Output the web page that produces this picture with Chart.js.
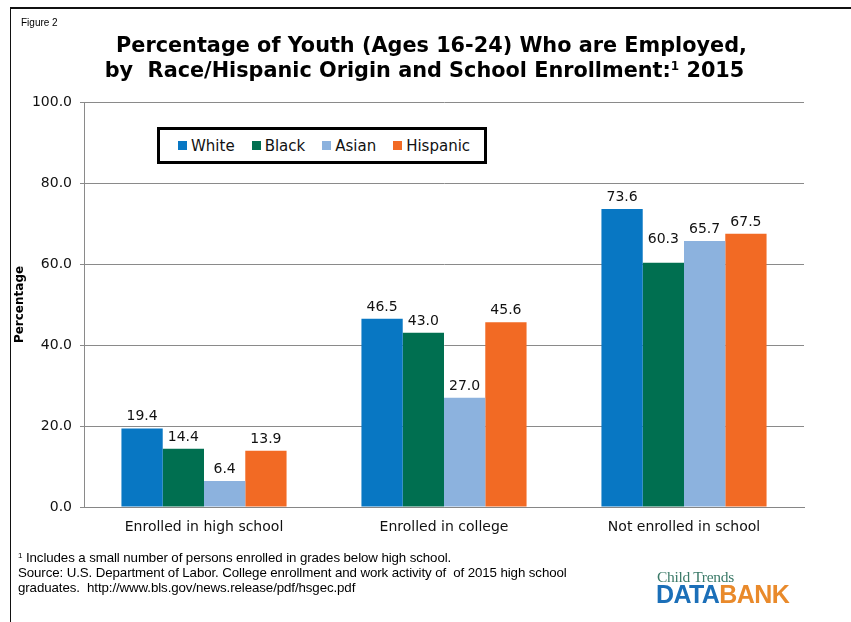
<!DOCTYPE html>
<html>
<head>
<meta charset="utf-8">
<script src="https://cdn.jsdelivr.net/npm/chart.js@4/dist/chart.umd.min.js"></script>
<style>
  html, body { margin: 0; padding: 0; background: #fff; }
  #wrap { position: relative; width: 851px; height: 622px; overflow: hidden; background: #fff; }
  #frameTop { position: absolute; left: 10px; top: 7px; width: 841px; height: 0; border-top: 2px solid #111; }
  #frameLeft { position: absolute; left: 10px; top: 7px; width: 0; height: 615px; border-left: 1.5px solid #111; }
  #fig { position: absolute; left: 21px; top: 17px; font: 10px "Liberation Sans", sans-serif; color: #000; }
  #title { position: absolute; left: 0; width: 851px; top: 33px; text-align: center; font: bold 20.8px "DejaVu Sans", Verdana, sans-serif; line-height: 25px; color: #000; padding-left: 12px; box-sizing: border-box; }
  #title .l2 { display: inline-block; margin-left: -14px; }
  #title sup { font-size: 12px; vertical-align: 7px; line-height: 0; }
  #c { position: absolute; left: 0; top: 0; }
  #legend { position: absolute; left: 157px; top: 127px; width: 330px; height: 37px; border: 3px solid #000; box-sizing: border-box; display: flex; align-items: center; padding-left: 18px; font: 15px "DejaVu Sans", Verdana, sans-serif; color: #111; background: #fff; }
  .li { display: flex; align-items: center; margin-right: 17px; }
  .sw { width: 9px; height: 9px; margin-right: 4px; }
  #foot { position: absolute; left: 18px; top: 550px; font: 13.3px "Liberation Sans", sans-serif; line-height: 15px; color: #000; letter-spacing: -0.1px; }
  #foot sup { font-size: 8px; vertical-align: 4px; line-height: 0; }
  #logo1 { position: absolute; left: 657px; top: 568px; font: 15.5px "Liberation Serif", serif; color: #3b7a68; letter-spacing: -0.3px; }
  #logo2 { position: absolute; left: 656px; top: 582px; font: bold 25px "Liberation Sans", sans-serif; letter-spacing: -0.6px; line-height: 25px; }
  #logo2 .d { color: #1b6fb8; }
  #logo2 .b { color: #e98a2b; }
</style>
</head>
<body>
<div id="wrap">
  <canvas id="c" width="851" height="622"></canvas>
  <div id="frameTop"></div>
  <div id="frameLeft"></div>
  <div id="fig">Figure 2</div>
  <div id="title">Percentage of Youth (Ages 16-24) Who are Employed,<br><span class="l2">by&nbsp; Race/Hispanic Origin and School Enrollment:<sup>1</sup> 2015</span></div>
  <div id="legend"></div>
  <div id="foot"><sup>1</sup> Includes a small number of persons enrolled in grades below high school.<br>Source: U.S. Department of Labor. College enrollment and work activity of&nbsp; of 2015 high school<br>graduates.&nbsp; http://www.bls.gov/news.release/pdf/hsgec.pdf</div>
  <div id="logo1">Child Trends</div>
  <div id="logo2"><span class="d">DATA</span><span class="b">BANK</span></div>
</div>
<script>
const categories = ["Enrolled in high school", "Enrolled in college", "Not enrolled in school"];
const seriesNames = ["White", "Black", "Asian", "Hispanic"];
const white = [19.4, 46.5, 73.6];
const black = [14.4, 43.0, 60.3];
const asian = [6.4, 27.0, 65.7];
const hispanic = [13.9, 45.6, 67.5];
const yTicks = [0, 20, 40, 60, 80, 100];
const colors = ["#0877C3", "#006F50", "#8CB2DE", "#F26A24"];

const seriesValues = [white, black, asian, hispanic];

// HTML legend built from series names
const leg = document.getElementById('legend');
seriesNames.forEach((n, i) => {
  const d = document.createElement('div');
  d.className = 'li';
  d.innerHTML = '<div class="sw" style="background:' + colors[i] + '"></div><span>' + n + '</span>';
  leg.appendChild(d);
});

const valueLabels = {
  id: 'valueLabels',
  afterDatasetsDraw(chart, args, opts) {
    const ctx = chart.ctx;
    ctx.save();
    ctx.font = '14px "DejaVu Sans", Verdana, sans-serif';
    ctx.fillStyle = '#111';
    ctx.textAlign = 'center';
    ctx.textBaseline = 'alphabetic';
    chart.data.datasets.forEach((ds, di) => {
      const meta = chart.getDatasetMeta(di);
      meta.data.forEach((el, i) => {
        let off = 8;
        (opts.raise || []).forEach(r => { if (r.dataset === di && r.index === i) off += r.px; });
        ctx.fillText(ds.data[i].toFixed(1), el.x, el.y - off);
      });
    });
    ctx.restore();
  }
};

new Chart(document.getElementById('c'), {
  type: 'bar',
  data: {
    labels: categories,
    datasets: seriesNames.map((n, i) => ({
      label: n,
      data: seriesValues[i],
      backgroundColor: colors[i],
      borderWidth: 0,
      categoryPercentage: 0.688,
      barPercentage: 1.0
    }))
  },
  options: {
    responsive: false,
    animation: false,
    devicePixelRatio: 1,
    layout: { padding: { left: 10, top: 102, right: 47, bottom: 75 } },
    plugins: {
      legend: { display: false },
      title: { display: false },
      tooltip: { enabled: false },
      valueLabels: { raise: [{ dataset: 1, index: 2, px: 12 }] }
    },
    scales: {
      x: {
        grid: { display: false },
        border: { display: true, color: '#868686', width: 1 },
        ticks: { font: { family: '"DejaVu Sans", Verdana, sans-serif', size: 14 }, color: '#111', padding: 4, maxRotation: 0 },
        afterFit: (s) => { s.height = 40; }
      },
      y: {
        min: 0, max: 100,
        afterBuildTicks: (s) => { s.ticks = yTicks.map(v => ({ value: v })); },
        grid: { color: '#8a8a8a', lineWidth: 1, tickLength: 4, drawTicks: true },
        border: { display: true, color: '#8a8a8a', width: 1 },
        ticks: {
          font: { family: '"DejaVu Sans", Verdana, sans-serif', size: 14 },
          color: '#111',
          padding: 8,
          callback: (v) => Number(v).toFixed(1)
        },
        title: { display: true, text: 'Percentage', font: { family: '"DejaVu Sans", Verdana, sans-serif', size: 12, weight: 'bold' }, color: '#000', padding: { top: 3, bottom: 0 } },
        afterFit: (s) => { s.width = 74; }
      }
    }
  },
  plugins: [valueLabels]
});
</script>
</body>
</html>
